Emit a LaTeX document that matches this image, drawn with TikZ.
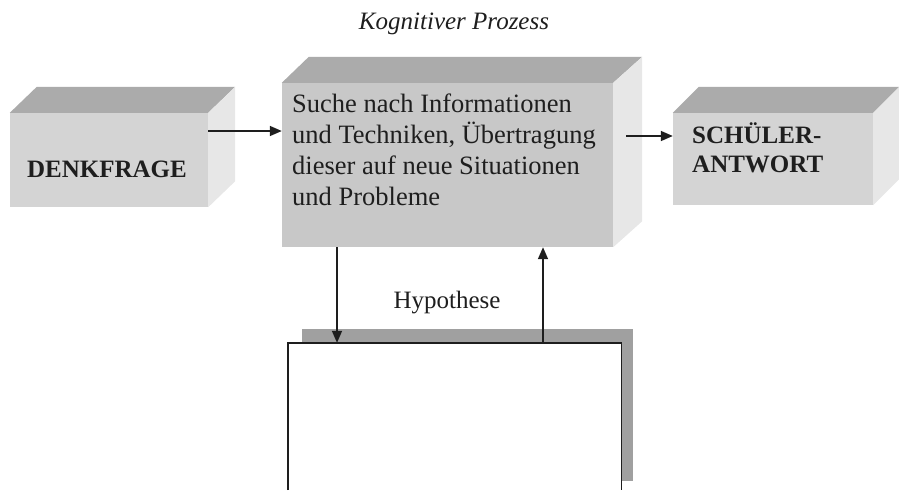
\documentclass[tikz,border=0pt]{standalone}
\usepackage{fontspec}
\setmainfont{Liberation Serif}
\usetikzlibrary{arrows.meta,calc}
\definecolor{topc}{HTML}{ABABAB}
\definecolor{frontc}{HTML}{D4D4D4}
\definecolor{midc}{HTML}{C8C8C8}
\definecolor{sidec}{HTML}{E7E7E7}
\definecolor{shadowc}{HTML}{A0A0A0}
\definecolor{inkc}{HTML}{1E1E1E}
\tikzset{
  frontface/.style={fill=frontc, draw=none, inner sep=0pt},
  topface/.style={fill=topc},
  sideface/.style={fill=sidec},
  arr/.style={-{Triangle[length=12pt,width=10pt]}, line width=1.6pt, draw=inkc},
  lbl/.style={inner sep=0pt, text=inkc, font=\fontsize{25}{29.5}\selectfont},
  boldlbl/.style={lbl, font=\fontsize{25}{29.5}\selectfont\bfseries},
}
\begin{document}
\begin{tikzpicture}[x=1pt,y=-1pt]
\useasboundingbox (0,0) rectangle (899,490);
% title
\node[lbl, anchor=base, font=\fontsize{25}{28}\selectfont\itshape] (title) at (454,29) {Kognitiver Prozess};
% DENKFRAGE box
\node[frontface, minimum width=198pt, minimum height=94pt] (dk) at (109,160) {};
\fill[topface] (dk.north west) -- ++(27,-26) -- ($(dk.north east)+(27,-26)$) -- (dk.north east) -- cycle;
\fill[sideface] (dk.north east) -- ++(27,-26) -- ($(dk.south east)+(27,-26)$) -- (dk.south east) -- cycle;
\node[boldlbl, anchor=base] (dkt) at (107,177) {DENKFRAGE};
% middle box
\node[frontface, fill=midc, minimum width=331pt, minimum height=164pt] (mid) at (447.5,165) {};
\fill[topface] (mid.north west) -- ++(27,-26) -- ($(mid.north east)+(29,-26)$) -- (mid.north east) -- cycle;
\fill[sideface] (mid.north east) -- ++(29,-26) -- ($(mid.south east)+(29,-26)$) -- (mid.south east) -- cycle;
\node[lbl, anchor=base west, font=\fontsize{26.5}{31}\selectfont] (midt) at (292,112)
  {\begin{tabular}[t]{@{}l@{}}Suche nach Informationen\\und Techniken, Übertragung\\dieser auf neue Situationen\\und Probleme\end{tabular}};
% SCHUELER box
\node[frontface, minimum width=200pt, minimum height=92pt] (sa) at (773,159) {};
\fill[topface] (sa.north west) -- ++(26,-26) -- ($(sa.north east)+(26,-26)$) -- (sa.north east) -- cycle;
\fill[sideface] (sa.north east) -- ++(26,-26) -- ($(sa.south east)+(26,-26)$) -- (sa.south east) -- cycle;
\node[boldlbl, anchor=base west] (sat) at (692,143) {\begin{tabular}[t]{@{}l@{}}SCHÜLER-\\ANTWORT\end{tabular}};
% lower box
\fill[shadowc] (302,329) rectangle (633,481);
\node[fill=white, draw=none, inner sep=0pt, minimum width=333pt, minimum height=147pt] (hb) at (454.5,416.5) {};
\draw[line width=1.4pt, draw=inkc] (hb.south west) -- (hb.north west) -- (hb.north east) -- (hb.south east);
\node[lbl, anchor=base] (hyp) at (447,308) {Hypothese};
% connectors
\coordinate (ya) at (0,131);
\coordinate (yb) at (0,136);
\coordinate (xd) at (337,0);
\coordinate (xu) at (543,0);
\coordinate (xs) at (626,0);
\draw[arr] (dk.east |- ya) -- (mid.west |- ya);
\draw[arr] (xs |- yb) -- (sa.west |- yb);
\draw[arr] (mid.south -| xd) -- (hb.north -| xd);
\draw[arr] (hb.north -| xu) -- (mid.south -| xu);
\end{tikzpicture}
\end{document}
